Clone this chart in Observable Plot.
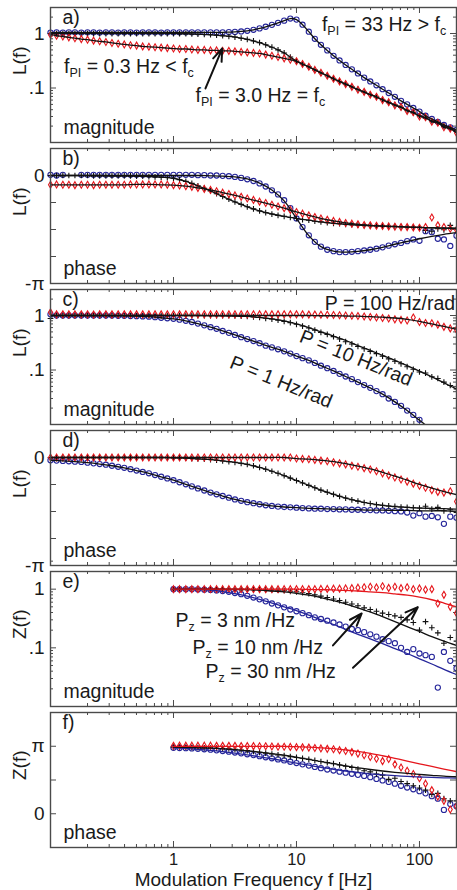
<!DOCTYPE html>
<html><head><meta charset="utf-8">
<script src="https://cdn.jsdelivr.net/npm/d3@7"></script>
<script src="https://cdn.jsdelivr.net/npm/@observablehq/plot@0.6"></script>
<style>
body{margin:0;background:#fff;}
#chart{position:relative;width:457px;height:890px;overflow:hidden;background:#fff;font-family:"Liberation Sans",Arial,Helvetica,sans-serif;}
#chart svg{position:absolute;left:0;overflow:visible;}
</style></head><body><div id="chart"></div><script>
// ---------- data ----------
const F = [0.1,0.112,0.126,0.141,0.158,0.178,0.2,0.224,0.251,0.282,
0.316,0.355,0.398,0.447,0.501,0.562,0.631,0.708,0.794,0.891,
1,1.12,1.26,1.41,1.58,1.78,2,2.24,2.51,2.82,
3.16,3.55,3.98,4.47,5.01,5.62,6.31,7.08,7.94,8.91,
10,11.2,12.6,14.1,15.8,17.8,20,22.4,25.1,28.2,
31.6,35.5,39.8,44.7,50.1,56.2,63.1,70.8,79.4,89.1,
100,112,126,141,158,178,200];
const G = [0.1,0.126,0.158,0.2,0.251,0.316,0.398,0.501,0.631,0.794,1,1.26,1.58,2,2.51,3.16,3.98,5.01,6.31,7.94,10,12.6,15.8,20,25.1,31.6,39.8,50.1,63.1,79.4,100,126,158,200];
const FE = F.slice(20), GE = G.slice(10);

// a) magnitude, PI frequency
const aBlue = [1.04,1.05,1.04,1.05,1.05,1.04,1.05,1.05,1.04,1.05,
1.05,1.04,1.05,1.05,1.04,1.05,1.05,1.05,1.04,1.05,
1.05,1.05,1.05,1.05,1.05,1.05,1.05,1.05,1.05,1.06,
1.07,1.09,1.12,1.17,1.24,1.33,1.44,1.57,1.72,1.88,
1.8,1.45,1.08,0.8,0.62,0.49,0.39,0.32,0.265,0.22,
0.185,0.155,0.132,0.112,0.095,0.081,0.069,0.058,0.05,0.043,
0.037,0.031,0.027,0.024,0.021,0.019,0.017];
const aBlack = [1,1,1,1,1,1,1,1,1,1,
1,1,1,1,1,1,1,1,1,1,
1,0.99,0.99,0.98,0.97,0.96,0.95,0.93,0.91,0.89,
0.86,0.82,0.78,0.73,0.68,0.62,0.56,0.5,0.44,0.37,
0.31,0.275,0.245,0.215,0.19,0.168,0.148,0.132,0.118,0.105,
0.094,0.084,0.076,0.068,0.061,0.054,0.049,0.044,0.039,0.035,
0.031,0.028,0.025,0.023,0.02,0.018,0.016];
const aRed = [0.95,0.91,0.88,0.85,0.82,0.79,0.77,0.74,0.72,0.7,
0.67,0.65,0.63,0.61,0.6,0.58,0.57,0.56,0.55,0.54,
0.53,0.52,0.52,0.51,0.5,0.5,0.49,0.49,0.48,0.48,
0.47,0.46,0.45,0.44,0.43,0.41,0.39,0.37,0.35,0.33,
0.31,0.275,0.245,0.215,0.19,0.168,0.148,0.132,0.118,0.105,
0.093,0.085,0.075,0.069,0.06,0.055,0.048,0.045,0.038,0.036,
0.03,0.029,0.024,0.023,0.019,0.018,0.015];

// b) phase, PI frequency
const bBlue = [0.02,0,0.02,null,null,0.02,0.02,0.02,0.02,0.02,
0.02,0.02,0.02,0.02,0.02,0.02,0.02,0.02,0.02,0.02,
0.02,0.02,0.02,0.02,0.01,0.01,0,0,-0.01,-0.02,
-0.04,-0.07,-0.11,-0.16,-0.23,-0.32,-0.43,-0.55,-0.72,-0.95,
-1.25,-1.5,-1.74,-1.93,-2.07,-2.16,-2.2,-2.23,-2.23,-2.22,
-2.2,-2.18,-2.16,-2.13,-2.09,-2.04,-2,-1.96,-1.91,-1.86,
-1.9,-1.62,-1.65,-1.84,-1.86,-2.05,-1.75];
const bBlack = [0,0,0,0,0,0,0,-0.01,-0.01,-0.01,
-0.01,-0.01,-0.01,-0.01,-0.02,-0.02,-0.03,-0.04,-0.05,-0.06,
-0.08,-0.12,-0.17,-0.23,-0.3,-0.37,-0.45,-0.53,-0.61,-0.69,
-0.77,-0.84,-0.91,-0.97,-1.03,-1.08,-1.12,-1.16,-1.19,-1.22,
-1.25,-1.28,-1.3,-1.33,-1.35,-1.37,-1.39,-1.4,-1.42,-1.43,
-1.44,-1.45,-1.46,-1.47,-1.47,-1.48,-1.48,-1.49,-1.5,-1.5,
-1.51,-1.6,-1.62,-1.55,-1.58,-1.45,-1.55];
const bRed = [-0.27,-0.26,-0.27,-0.27,-0.28,-0.27,-0.27,-0.28,-0.27,-0.27,
-0.27,-0.27,-0.27,-0.26,-0.26,-0.26,-0.26,-0.26,-0.26,-0.27,
-0.28,-0.29,-0.31,-0.33,-0.36,-0.39,-0.42,-0.46,-0.5,-0.54,
-0.58,-0.62,-0.67,-0.71,-0.76,-0.8,-0.85,-0.9,-0.95,-1,
-1.06,-1.11,-1.16,-1.21,-1.25,-1.29,-1.32,-1.35,-1.38,-1.4,
-1.42,-1.44,-1.45,-1.46,-1.47,-1.48,-1.49,-1.5,-1.5,-1.51,
-1.52,-1.5,-1.22,-1.45,-1.5,-1.55,-1.58];
const bBlueFit = [0,0,0,0,0,0,0,0,0,0,
0,0,0,-0.01,-0.02,-0.04,-0.1,-0.22,-0.42,-0.74,
-1.25,-1.75,-2.07,-2.2,-2.23,-2.21,-2.16,-2.09,-2,-1.92,
-1.84,-1.77,-1.71,-1.66];
const bBlackFit = [0,0,0,0,0,-0.01,-0.01,-0.02,-0.03,-0.05,
-0.08,-0.17,-0.3,-0.45,-0.61,-0.77,-0.91,-1.03,-1.12,-1.19,
-1.25,-1.3,-1.35,-1.39,-1.42,-1.44,-1.46,-1.47,-1.48,-1.5,
-1.51,-1.52,-1.53,-1.53];
const bRedFit = [-0.27,-0.27,-0.27,-0.27,-0.27,-0.27,-0.27,-0.26,-0.26,-0.27,
-0.28,-0.31,-0.36,-0.42,-0.5,-0.58,-0.67,-0.76,-0.85,-0.95,
-1.06,-1.16,-1.25,-1.32,-1.38,-1.42,-1.45,-1.47,-1.49,-1.5,
-1.51,-1.52,-1.53,-1.54];

// c) magnitude, P gain
const cBlue = [1.05,1,1,1,1,1,1,1,1,1,
1,0.99,0.99,0.98,0.97,0.96,0.95,0.93,0.91,0.89,
0.87,0.84,0.8,0.76,0.71,0.66,0.61,0.57,0.52,0.48,
0.44,0.4,0.37,0.34,0.31,0.28,0.26,0.24,0.22,0.2,
0.18,0.165,0.15,0.135,0.12,0.108,0.096,0.085,0.076,0.068,
0.06,0.053,0.047,0.041,0.036,0.03,0.026,0.022,0.018,0.015,
0.0122,null,null,null,null,null,null];
const cBlack = [0.88,1,1,1,1,1,1,1,1,1,
1,1,1,1,1,1,1,1,1,1,
1,1,1,1,1,1,1,1,0.99,0.99,
0.98,0.97,0.96,0.94,0.92,0.89,0.86,0.82,0.78,0.74,
0.69,0.64,0.59,0.54,0.49,0.45,0.41,0.37,0.33,0.3,
0.27,0.245,0.22,0.2,0.18,0.16,0.145,0.13,0.115,0.103,
0.092,0.088,0.075,0.07,0.06,0.052,0.045];
const cRed = [1.15,1.05,1.05,1.05,1.05,1.05,1.05,1.04,1.05,1.05,
1.05,1.05,1.05,1.05,1.05,1.05,1.05,1.05,1.05,1.05,
1.05,1.05,1.05,1.05,1.05,1.05,1.05,1.05,1.05,1.05,
1.05,1.05,1.05,1.05,1.05,1.05,1.05,1.05,1.05,1.05,
1.05,1.05,1.04,1.04,1.03,1.03,1.02,1.01,1,0.99,
0.98,0.96,0.94,0.92,0.9,0.88,0.85,0.83,0.81,0.92,
0.76,0.73,0.72,0.68,0.62,0.58,0.55];
const cBlueFit = [1,1,1,1,1,0.99,0.99,0.97,0.95,0.91,
0.87,0.8,0.71,0.61,0.52,0.44,0.37,0.31,0.26,0.22,
0.18,0.15,0.12,0.096,0.076,0.06,0.047,0.036,0.026,0.018,
0.012,0.008,0.0055,0.004];
const cBlackFit = [1,1,1,1,1,1,1,1,1,1,
1,1,1,0.99,0.99,0.98,0.96,0.92,0.87,0.8,
0.7,0.6,0.5,0.42,0.35,0.28,0.23,0.185,0.15,0.12,
0.095,0.075,0.058,0.045];
const cRedFit = [1,1,1,1,1,1,1,1,1,1,
1,1,1,1,1,1,1,1,1,1,
1,1,0.99,0.99,0.98,0.97,0.95,0.93,0.9,0.85,
0.78,0.7,0.63,0.56];

// d) phase, P gain
const dBlue = [-0.08,-0.09,-0.1,-0.11,-0.12,-0.13,-0.15,-0.17,-0.19,-0.21,
-0.24,-0.27,-0.3,-0.34,-0.38,-0.42,-0.46,-0.51,-0.56,-0.61,
-0.66,-0.72,-0.78,-0.84,-0.9,-0.96,-1.02,-1.07,-1.12,-1.17,
-1.22,-1.26,-1.3,-1.33,-1.36,-1.39,-1.41,-1.43,-1.44,-1.45,
-1.46,-1.47,-1.48,-1.49,-1.49,-1.5,-1.5,-1.51,-1.51,-1.52,
-1.52,-1.53,-1.53,-1.54,-1.54,-1.55,-1.56,-1.57,-1.6,-1.69,
-1.62,-1.72,-1.7,-1.74,-1.93,-1.72,-1.75];
const dBlack = [0,0,0,0,0,0,0,0,0,0,
0,0,0,0,0,0,0,0,0,0,
-0.01,-0.01,-0.02,-0.03,-0.04,-0.05,-0.06,-0.08,-0.1,-0.12,
-0.14,-0.17,-0.2,-0.24,-0.29,-0.34,-0.4,-0.46,-0.53,-0.6,
-0.67,-0.74,-0.81,-0.88,-0.95,-1.01,-1.07,-1.13,-1.18,-1.23,
-1.27,-1.31,-1.34,-1.37,-1.39,-1.41,-1.42,-1.44,-1.45,-1.46,
-1.47,-1.42,-1.5,-1.45,-1.55,-1.52,-1.6];
const dRed = [0,0,0,0,0,0,0,0,0,0,
0,0,0,0,0,0,0,0,0,0,
0,0,0,0,0,0,0,0,0,0,
0,0,0,0,0,0,0,0,0,0,
-0.03,-0.04,-0.05,-0.07,-0.09,-0.11,-0.14,-0.17,-0.2,-0.24,
-0.27,-0.31,-0.35,-0.4,-0.46,-0.52,-0.58,-0.64,-0.7,-0.76,
-0.82,-0.88,-0.95,-1,-1.02,-0.98,-1.28];
const dBlueFit = [-0.08,-0.1,-0.12,-0.15,-0.19,-0.24,-0.3,-0.38,-0.46,-0.56,
-0.66,-0.78,-0.9,-1.02,-1.12,-1.22,-1.3,-1.36,-1.41,-1.44,
-1.46,-1.48,-1.49,-1.5,-1.51,-1.52,-1.53,-1.53,-1.54,-1.54,
-1.55,-1.55,-1.55,-1.56];
const dBlackFit = [0,0,0,0,0,0,0,0,0,0,
-0.01,-0.02,-0.04,-0.06,-0.1,-0.14,-0.2,-0.29,-0.4,-0.53,
-0.67,-0.81,-0.95,-1.07,-1.18,-1.27,-1.34,-1.39,-1.43,-1.45,
-1.47,-1.48,-1.49,-1.5];
const dRedFit = [0,0,0,0,0,0,0,0,0,0,
0,0,0,0,0,0,0,0,0,0,
-0.03,-0.05,-0.08,-0.12,-0.18,-0.25,-0.33,-0.43,-0.54,-0.66,
-0.78,-0.89,-0.99,-1.08];

// e) Z magnitude (from 1 Hz)
const eBlue = [1,1,1,1,0.99,0.98,0.97,0.95,0.93,0.9,
0.86,0.82,0.77,0.72,0.67,0.62,0.57,0.53,0.49,0.45,
0.42,0.39,0.36,0.33,0.31,0.29,0.27,0.25,0.23,0.21,
0.2,0.185,0.17,0.155,0.14,0.13,0.12,0.1,0.085,0.095,
0.08,0.075,0.07,0.021,0.085,0.06,0.045];
const eBlack = [1,1,1,1,1,1,1,1,1,1,
1,1,1,0.99,0.99,0.98,0.97,0.96,0.94,0.92,
0.9,0.87,0.84,0.8,0.76,0.72,0.68,0.64,0.6,0.56,
0.52,0.48,0.45,0.42,0.39,0.37,0.35,0.33,0.3,0.27,
0.2,0.28,0.22,0.18,0.12,0.15,0.13];
const eRed = [1,1,1,1,1,1,1,1,1,1,
1,1,1,1,1,1,1,1,1,1,
1,1,1,1,1.01,1.01,1.02,1.02,1.03,1.04,
1.06,1.08,1.1,1.07,1.12,1.05,1.1,1.04,1.08,1,
1.03,0.98,1,0.57,0.8,0.5,0.39];
const eBlueFit = [1,1,0.99,0.96,0.91,0.84,0.76,0.67,0.58,0.5,
0.43,0.36,0.3,0.25,0.205,0.17,0.142,0.118,0.097,0.08,
0.065,0.053,0.043,0.035];
const eBlackFit = [1,1,1,1,1,0.99,0.98,0.96,0.93,0.9,
0.85,0.79,0.72,0.64,0.56,0.48,0.41,0.34,0.28,0.23,
0.19,0.155,0.13,0.11];
const eRedFit = [1,1,1,1,1,1,1,1,1,1,
1,0.99,0.98,0.97,0.95,0.93,0.9,0.87,0.83,0.79,
0.73,0.66,0.58,0.5];

// f) Z phase (from 1 Hz)
const fBlue = [3.07,3.06,3.05,3.04,3.02,3,2.98,2.95,2.92,2.89,
2.85,2.81,2.77,2.73,2.68,2.63,2.58,2.53,2.48,2.42,
2.36,2.3,2.24,2.18,2.12,2.06,2.01,1.96,1.91,1.86,
1.81,1.76,1.7,1.62,1.55,1.48,1.4,1.3,1.22,1.14,
1.05,0.95,0.82,0.7,0.18,0.45,0.35];
const fBlack = [3.1,3.1,3.1,3.09,3.08,3.07,3.06,3.05,3.04,3.02,
3,2.97,2.94,2.9,2.86,2.82,2.78,2.74,2.7,2.66,
2.62,2.58,2.53,2.48,2.43,2.38,2.33,2.27,2.21,2.15,
2.08,2,1.95,1.85,1.8,1.6,1.65,1.5,1.4,1.3,
1.2,1.1,0.9,0.95,0.7,0.6,0.6];
const fRed = [3.16,3.17,3.17,3.17,3.17,3.17,3.17,3.16,3.16,3.16,
3.16,3.15,3.15,3.15,3.14,3.14,3.13,3.12,3.12,3.11,
3.1,3.09,3.08,3.06,3.04,3.02,3,2.96,2.92,2.87,
2.8,2.72,2.64,2.56,2.45,2.55,2.3,2.15,2,1.85,
1.65,1.4,1.1,0.8,0.6,0.2,0.35];
const fBlueFit = [3.07,3.04,3,2.95,2.89,2.82,2.74,2.65,2.56,2.46,
2.36,2.26,2.16,2.07,1.99,1.92,1.86,1.81,1.77,1.74,
1.71,1.69,1.67,1.66];
const fBlackFit = [3.1,3.09,3.07,3.05,3.02,2.98,2.93,2.87,2.8,2.73,
2.63,2.53,2.43,2.33,2.23,2.14,2.06,1.99,1.93,1.88,
1.83,1.79,1.75,1.72];
const fRedFit = [3.14,3.14,3.14,3.14,3.14,3.14,3.14,3.14,3.14,3.14,
3.12,3.1,3.07,3.03,2.97,2.9,2.81,2.7,2.58,2.45,
2.32,2.2,2.08,1.96];

// tick values and labels
const PI = Math.PI;
const xMajor = [1, 10, 100];
const xMinor = [0.2,0.3,0.4,0.5,0.6,0.7,0.8,0.9,2,3,4,5,6,7,8,9,20,30,40,50,60,70,80,90,200];
const xTickText = ["1", "10", "100"];
const magMajor = [1, 0.1];
const magMinor = [2,3,0.2,0.3,0.4,0.5,0.6,0.7,0.8,0.9,0.02,0.03,0.04,0.05,0.06,0.07,0.08,0.09];
const magText = ["1", ".1"];
const phMajorL = [0, -PI/4, -PI/2, -3*PI/4, -PI, PI/4];
const phLabVals = [0, -PI];
const phText = ["0", "-\u03c0"];
const zphMajor = [-PI/2, 0, PI/2, PI, 3*PI/2];
const zphLabVals = [PI, 0];
const zphText = ["\u03c0", "0"];

// annotations (data coordinates)
const annA = [
  {f: 16.1, v: 1.46, t: "f_{PI} = 33 Hz > f_{c}"},
  {f: 0.129, v: 0.244, t: "f_{PI} = 0.3 Hz < f_{c}"},
  {f: 1.51, v: 0.071, t: "f_{PI} = 3.0 Hz = f_{c}"}
];
const arrA = [{f1: 1.82, v1: 0.098, f2: 2.49, v2: 0.53}];
const annC = [{f: 17.0, v: 1.66, t: "P = 100 Hz/rad"}];
const annCRot = [{f: 30.5, v: 0.165, t: "P = 10 Hz/rad"}, {f: 7.49, v: 0.06, t: "P = 1 Hz/rad"}];
const annE = [
  {f: 1.04, v: 0.29, t: "P_{z} = 3 nm /Hz"},
  {f: 1.43, v: 0.1, t: "P_{z} = 10 nm /Hz"},
  {f: 1.82, v: 0.0385, t: "P_{z} = 30 nm /Hz"}
];
const arrE = [
  {f1: 19.8, v1: 0.11, f2: 33.9, v2: 0.385},
  {f1: 28.8, v1: 0.0458, f2: 96.9, v2: 0.493}
];

// ---------- styling / layout ----------
const BLUE = "#25259a", RED = "#e5161c", BLK = "#111", AX = "#4a4a4a", TXT = "#1a1a1a";
const FONT = '"Liberation Sans", Arial, Helvetica, sans-serif';
const W = 457, ML = 50, MR = 1, PH = 135;
const TOPS = [7, 148, 289, 430, 571, 712];
const SYM = {circle: 2.6, plus: 2.0, diamond: 2.1};

const panels = [
  {tag: "a)", kind: "magnitude", ylab: "L(f)", type: "log", dom: [0.01, 3], yMajor: magMajor, yMinor: magMinor, labV: magMajor, labT: magText,
   dots: [[F, aBlue, "circle", BLUE], [F, aBlack, "plus", BLK], [F, aRed, "diamond", RED]],
   lines: [[F, aBlue, BLK], [F, aBlack, BLK], [F, aRed, BLK]], ann: annA, arrows: arrA},
  {tag: "b)", kind: "phase", ylab: "L(f)", type: "linear", dom: [-PI, PI/4], yMajor: phMajorL, labV: phLabVals, labT: phText,
   dots: [[F, bBlue, "circle", BLUE], [F, bBlack, "plus", BLK], [F, bRed, "diamond", RED]],
   lines: [[G, bBlueFit, BLK], [G, bBlackFit, BLK], [G, bRedFit, BLK]]},
  {tag: "c)", kind: "magnitude", ylab: "L(f)", type: "log", dom: [0.01, 3], yMajor: magMajor, yMinor: magMinor, labV: magMajor, labT: magText,
   dots: [[F, cBlue, "circle", BLUE], [F, cBlack, "plus", BLK], [F, cRed, "diamond", RED]],
   lines: [[G, cBlueFit, BLK], [G, cBlackFit, BLK], [G, cRedFit, BLK]], ann: annC, rot: annCRot},
  {tag: "d)", kind: "phase", ylab: "L(f)", type: "linear", dom: [-PI, PI/4], yMajor: phMajorL, labV: phLabVals, labT: phText,
   dots: [[F, dBlue, "circle", BLUE], [F, dBlack, "plus", BLK], [F, dRed, "diamond", RED]],
   lines: [[G, dBlueFit, BLK], [G, dBlackFit, BLK], [G, dRedFit, BLK]]},
  {tag: "e)", kind: "magnitude", ylab: "Z(f)", type: "log", dom: [0.01, 2], yMajor: magMajor, yMinor: magMinor, labV: magMajor, labT: magText,
   dots: [[FE, eBlue, "circle", BLUE], [FE, eBlack, "plus", BLK], [FE, eRed, "diamond", RED]],
   lines: [[GE, eBlueFit, BLUE], [GE, eBlackFit, BLK], [GE, eRedFit, RED]], ann: annE, arrows: arrE},
  {tag: "f)", kind: "phase", ylab: "Z(f)", type: "linear", dom: [-PI/2, 3*PI/2], yMajor: zphMajor, labV: zphLabVals, labT: zphText,
   dots: [[FE, fBlue, "circle", BLUE], [FE, fBlack, "plus", BLK], [FE, fRed, "diamond", RED]],
   lines: [[GE, fBlueFit, BLUE], [GE, fBlackFit, BLK], [GE, fRedFit, RED]], last: true}
];

function subscripts(svg) {
  const NS = "http://www.w3.org/2000/svg";
  svg.querySelectorAll("text").forEach(t => {
    const s = t.textContent;
    if (!s.includes("_{")) return;
    while (t.firstChild) t.removeChild(t.firstChild);
    const parts = s.split(/(_\{[^}]*\})/).filter(x => x.length);
    let shifted = false;
    for (const part of parts) {
      const ts = document.createElementNS(NS, "tspan");
      if (part.startsWith("_{")) {
        ts.textContent = part.slice(2, -1);
        ts.setAttribute("font-size", "12.5");
        ts.setAttribute("dy", "4");
        shifted = true;
      } else {
        ts.textContent = part;
        if (shifted) { ts.setAttribute("dy", "-4"); shifted = false; }
      }
      t.appendChild(ts);
    }
  });
}

const container = document.getElementById("chart");
panels.forEach((p, k) => {
  const mt = 12, mb = p.last ? 46 : 12;
  const PW = W - ML - MR;
  const marks = [];
  // inward ticks, all four sides
  marks.push(
    Plot.ruleX(xMajor, {insetTop: PH - 6, stroke: AX}),
    Plot.ruleX(xMajor, {insetBottom: PH - 6, stroke: AX}),
    Plot.ruleX(xMinor, {insetTop: PH - 3, stroke: AX}),
    Plot.ruleX(xMinor, {insetBottom: PH - 3, stroke: AX}),
    Plot.ruleY(p.yMajor, {insetRight: PW - 6, stroke: AX}),
    Plot.ruleY(p.yMajor, {insetLeft: PW - 6, stroke: AX})
  );
  if (p.yMinor) marks.push(
    Plot.ruleY(p.yMinor, {insetRight: PW - 3, stroke: AX}),
    Plot.ruleY(p.yMinor, {insetLeft: PW - 3, stroke: AX})
  );
  for (const [xs, ys, sym, col] of p.dots)
    marks.push(Plot.dot(ys, {x: xs, y: ys, symbol: sym, r: SYM[sym], stroke: col, fill: "none", strokeWidth: 1.1}));
  for (const [xs, ys, col] of p.lines)
    marks.push(Plot.line(ys, {x: xs, y: ys, stroke: col, strokeWidth: 1.3, curve: "catmull-rom", clip: true}));
  marks.push(Plot.frame({stroke: AX, strokeWidth: 1.4}));
  // y tick labels
  const labs = p.labV.map((v, i) => ({v, t: p.labT[i]}));
  marks.push(Plot.text(labs, {y: "v", text: "t", frameAnchor: "left", textAnchor: "end", dx: -6, fontSize: 19, fill: TXT}));
  // y title
  marks.push(Plot.text([p.ylab], {frameAnchor: "left", dx: -31, rotate: -90, fontSize: 19, fill: TXT}));
  // panel tag and kind
  marks.push(Plot.text([p.tag], {frameAnchor: "top-left", dx: 12, dy: 3, lineAnchor: "top", fontSize: 19.5, fill: TXT}));
  marks.push(Plot.text([p.kind], {frameAnchor: "bottom-left", dx: 13, dy: -9, lineAnchor: "bottom", fontSize: 19.5, fill: TXT}));
  if (p.ann) marks.push(Plot.text(p.ann, {x: "f", y: "v", text: "t", textAnchor: "start", fontSize: 19.5, fill: TXT}));
  if (p.rot) {
    marks.push(Plot.text([p.rot[0]], {x: "f", y: "v", text: "t", rotate: 22, fontSize: 19.5, fill: TXT}));
    marks.push(Plot.text([p.rot[1]], {x: "f", y: "v", text: "t", rotate: 22, fontSize: 19.5, fill: TXT}));
  }
  if (p.arrows) marks.push(Plot.arrow(p.arrows, {x1: "f1", y1: "v1", x2: "f2", y2: "v2", stroke: BLK, strokeWidth: 2, headLength: 10, headAngle: 40}));
  if (p.last) {
    const xl = xMajor.map((v, i) => ({v, t: xTickText[i]}));
    marks.push(Plot.text(xl, {x: "v", text: "t", frameAnchor: "bottom", lineAnchor: "top", dy: 6, fontSize: 16.5, fill: TXT}));
    marks.push(Plot.text(["Modulation Frequency f [Hz]"], {frameAnchor: "bottom", lineAnchor: "top", dy: 25, fontSize: 19, fill: TXT}));
  }
  const svg = Plot.plot({
    width: W, height: PH + mt + mb,
    marginLeft: ML, marginRight: MR, marginTop: mt, marginBottom: mb,
    x: {type: "log", domain: [0.1, 200], axis: null},
    y: {type: p.type, domain: p.dom, axis: null},
    style: {fontFamily: FONT, color: TXT, background: "transparent", overflow: "visible"},
    marks
  });
  svg.style.position = "absolute";
  svg.style.left = "0px";
  svg.style.top = (TOPS[k] - mt) + "px";
  subscripts(svg);
  container.appendChild(svg);
});
</script></body></html>
